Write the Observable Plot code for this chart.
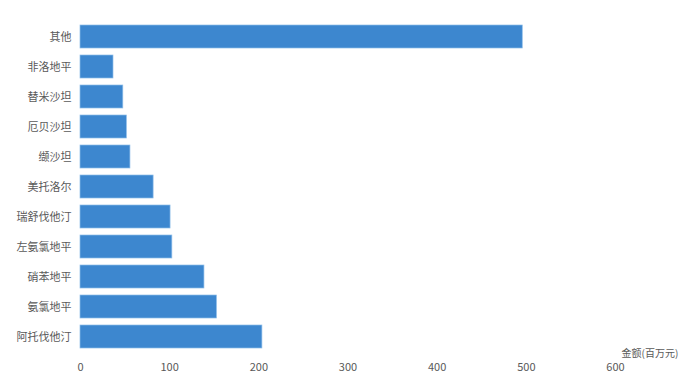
<!DOCTYPE html>
<html>
<head>
<meta charset="utf-8">
<script src="https://cdn.jsdelivr.net/npm/d3@7"></script>
<script src="https://cdn.jsdelivr.net/npm/@observablehq/plot@0.6"></script>
<style>
  html, body { margin: 0; padding: 0; background: #fff; overflow: hidden; width: 681px; height: 387px; }
</style>
</head>
<body>
<div id="chart"></div>
<script>
const categories = ["其他", "非洛地平", "替米沙坦", "厄贝沙坦", "缬沙坦", "美托洛尔", "瑞舒伐他汀", "左氨氯地平", "硝苯地平", "氨氯地平", "阿托伐他汀"];
const values = [496, 37, 48, 52, 56, 82, 101, 103, 139, 153, 204];
const xTicks = [0, 100, 200, 300, 400, 500, 600];
const axisTitle = ["金额(百万元)"];

const data = categories.map((c, i) => ({category: c, value: values[i]}));

const chart = Plot.plot({
  width: 681,
  height: 387,
  marginLeft: 80,
  marginRight: 66,
  marginTop: 14,
  marginBottom: 28,
  style: {fontFamily: "'Noto Sans CJK SC', 'Noto Sans', sans-serif", fontSize: "11px", color: "#595959", background: "#fff"},
  x: {domain: [0, 600], ticks: xTicks, tickSize: 0, tickPadding: 4, label: null},
  y: {domain: categories, padding: 0.22, tickSize: 0, tickPadding: 9, label: null},
  marks: [
    Plot.barX(data, {y: "category", x: "value", fill: "#3d87cf", stroke: "#8dbde9", strokeWidth: 0.7}),
    Plot.text(axisTitle, {x: 600, frameAnchor: "bottom", dy: -3, dx: 6, textAnchor: "start", fill: "#595959", fontSize: 10})
  ]
});
document.getElementById("chart").appendChild(chart);
</script>
</body>
</html>
